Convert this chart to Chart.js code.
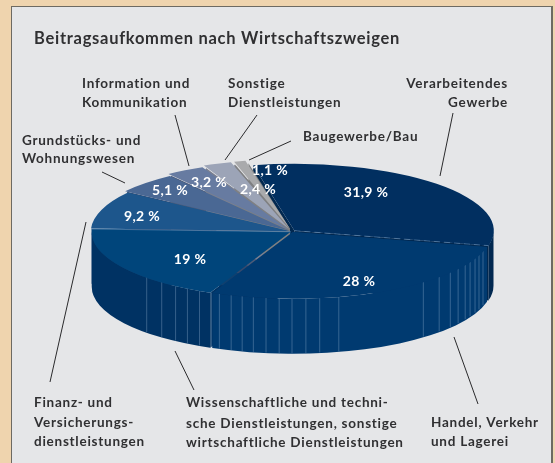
<!DOCTYPE html>
<html>
<head>
<meta charset="utf-8">
<style>
  html, body { margin: 0; padding: 0; background: #efd4ae; }
  #wrap { position: relative; width: 555px; height: 463px; overflow: hidden; }
  #panel { position: absolute; left: 11px; top: 6px; width: 542px; height: 470px; background: #e5e6e8; border: 1px solid #6d6a62; border-right-width: 2px; box-sizing: border-box; }
  canvas { position: absolute; left: 0; top: 0; }
</style>
<script src="https://cdn.jsdelivr.net/npm/chart.js@4"></script>
</head>
<body>
<div id="wrap">
  <div id="panel"></div>
  <canvas id="torte" width="555" height="463"></canvas>
</div>
<script>
var titel = "Beitragsaufkommen nach Wirtschaftszweigen";
var branchen = [
  "Verarbeitendes Gewerbe",
  "Handel, Verkehr und Lagerei",
  "Wissenschaftliche und technische Dienstleistungen, sonstige wirtschaftliche Dienstleistungen",
  "Finanz- und Versicherungsdienstleistungen",
  "Grundstücks- und Wohnungswesen",
  "Information und Kommunikation",
  "Sonstige Dienstleistungen",
  "Baugewerbe/Bau"
];
var anteile = [31.9, 28, 19, 9.2, 5.1, 3.2, 2.4, 1.1];
var farbenOben = ["#012f60", "#003a70", "#00457b", "#1d568c", "#4a6894", "#677ba1", "#9ca4b7", "#a9aaac"];
var farbenSeite = ["#012850", "#003a70", "#003263", "#10406f", "#35496d", "#4d5b78", "#7b8090", "#7f8082"];
var versatz = [14, 8, 6, 6, 16, 28, 36, 36];

// beschriftung: [text, x, y, ausrichtung]
var beschriftungen = [
  ["Information und", 82, 88, "left"], ["Kommunikation", 82, 107, "left"],
  ["Sonstige", 228, 88, "left"], ["Dienstleistungen", 228, 107, "left"],
  ["Grundstücks- und", 22, 145, "left"], ["Wohnungswesen", 22, 163, "left"],
  ["Baugewerbe/Bau", 303, 141, "left"],
  ["Verarbeitendes", 508, 88, "right"], ["Gewerbe", 508, 107, "right"],
  ["Finanz- und", 34, 407, "left"], ["Versicherungs-", 34, 427, "left"], ["dienstleistungen", 34, 446, "left"],
  ["Wissenschaftliche und techni-", 186, 407, "left"], ["sche Dienstleistungen, sonstige", 186, 428, "left"], ["wirtschaftliche Dienstleistungen", 186, 447, "left"],
  ["Handel, Verkehr", 431, 427, "left"], ["und Lagerei", 431, 446, "left"]
];
var fuehrungslinien = [
  [453, 113, 440, 176], [454, 337, 478, 404], [175, 351, 194, 390], [86, 222, 50, 382],
  [102, 172, 125, 183], [175, 115, 189, 166], [257, 115, 225, 160], [291, 141, 249, 160]
];
var prozentPos = [[366, 197], [359, 286], [190, 264], [142, 221], [170, 195], [209, 187], [258, 194], [270, 175]];
// helle streifen in der mantelflaeche, winkel in grad von oben
var streifen = [226.9, 220.9, 215.8, 211.7, 207.7, 203.9, 201.4, 197.8, 194.5, 191.2, 187.5, 183.7, 180, 176, 172, 166.4, 138.7, 132.3, 127.3, 123.4, 119.5, 116.5, 113.1, 110, 106.3];

var stauchung = 0.335;
var tiefe = 55;

function bogenDaten(chart) {
  var meta = chart.getDatasetMeta(0);
  return meta.data.map(function (arc, i) {
    var p = arc.getProps(["x", "y", "startAngle", "endAngle", "outerRadius"], true);
    // chart.js verschiebt einen bogen um offset / 4
    var o = versatz[i] / 4;
    var mitte = (p.startAngle + p.endAngle) / 2;
    return {
      x: p.x + Math.cos(mitte) * o,
      y: p.y + Math.sin(mitte) * o * stauchung,
      a0: p.startAngle, a1: p.endAngle, r: p.outerRadius, i: i, kx: p.x, ky: p.y
    };
  });
}

var dreiD = {
  id: "dreiD",
  beforeDatasetsDraw: function (chart) {
    var ctx = chart.ctx;
    var boegen = bogenDaten(chart);
    var cx = boegen[0].kx, cy = boegen[0].ky;
    ctx.save();
    // radiale schnittflaechen, hinten zuerst
    boegen.forEach(function (b) {
      ctx.fillStyle = farbenSeite[b.i];
      [b.a0, b.a1].forEach(function (a) {
        var rx = b.x + Math.cos(a) * b.r, ry = b.y + Math.sin(a) * b.r * stauchung;
        ctx.beginPath();
        ctx.moveTo(b.x, b.y);
        ctx.lineTo(rx, ry);
        ctx.lineTo(rx, ry + tiefe);
        ctx.lineTo(b.x, b.y + tiefe);
        ctx.closePath();
        ctx.fill();
      });
    });
    // aeussere mantelflaeche
    boegen.forEach(function (b) {
      var z = Math.PI * 2;
      [0, z, -z].forEach(function (k) {
        var von = Math.max(b.a0 + k, 0), bis = Math.min(b.a1 + k, Math.PI);
        if (bis <= von) return;
        ctx.fillStyle = farbenSeite[b.i];
        ctx.beginPath();
        ctx.ellipse(b.x, b.y, b.r, b.r * stauchung, 0, von, bis);
        ctx.ellipse(b.x, b.y + tiefe, b.r, b.r * stauchung, 0, bis, von, true);
        ctx.closePath();
        ctx.fill();
      });
    });
    ctx.strokeStyle = "rgba(150,180,210,0.45)";
    ctx.lineWidth = 0.8;
    streifen.forEach(function (g) {
      var a = (g - 90) * Math.PI / 180;
      var r = boegen[0].r;
      var sx = cx + Math.cos(a) * r, sy = cy + Math.sin(a) * r * stauchung;
      ctx.beginPath();
      ctx.moveTo(sx, sy);
      ctx.lineTo(sx, sy + tiefe);
      ctx.stroke();
    });
    ctx.restore();
    // deckflaeche wird von chart.js gezeichnet, nur gestaucht
    ctx.save();
    ctx.translate(cx, cy);
    ctx.scale(1, stauchung);
    ctx.translate(-cx, -cy);
  },
  afterDatasetsDraw: function (chart) {
    var ctx = chart.ctx;
    ctx.restore();
    ctx.save();
    // helle nahtlinien auf der deckflaeche
    var boegen = bogenDaten(chart);
    ctx.lineWidth = 0.8;
    [[0, "a1", [6, 4]], [2, "a1", []]].forEach(function (n) {
      var b = boegen[n[0]], a = b[n[1]];
      ctx.strokeStyle = "rgba(120,160,200,0.6)";
      ctx.setLineDash(n[2]);
      ctx.beginPath();
      ctx.moveTo(b.x, b.y);
      ctx.lineTo(b.x + Math.cos(a) * b.r, b.y + Math.sin(a) * b.r * stauchung);
      ctx.stroke();
    });
    ctx.setLineDash([]);
    ctx.textBaseline = "alphabetic";
    ctx.fillStyle = "#303032";
    ctx.font = "700 16.5px Lato";
    ctx.letterSpacing = "0.72px";
    ctx.textAlign = "left";
    ctx.fillText(titel, 34, 44);
    ctx.font = "700 13.5px Lato";
    ctx.letterSpacing = "0.75px";
    beschriftungen.forEach(function (b) {
      ctx.textAlign = b[3];
      ctx.fillText(b[0], b[1], b[2]);
    });
    ctx.strokeStyle = "#2a2a2c";
    ctx.lineWidth = 1;
    fuehrungslinien.forEach(function (l) {
      ctx.beginPath();
      ctx.moveTo(l[0], l[1]);
      ctx.lineTo(l[2], l[3]);
      ctx.stroke();
    });
    ctx.fillStyle = "#ffffff";
    ctx.font = "700 14px Lato";
    ctx.letterSpacing = "0.3px";
    ctx.textAlign = "center";
    anteile.forEach(function (w, i) {
      ctx.fillText(String(w).replace(".", ",") + " %", prozentPos[i][0], prozentPos[i][1]);
    });
    ctx.restore();
  }
};

new Chart(document.getElementById("torte"), {
  type: "pie",
  data: {
    labels: branchen,
    datasets: [{
      data: anteile,
      backgroundColor: farbenOben,
      borderWidth: 0,
      offset: versatz,
      radius: 199,
      rotation: -12,
      clip: false
    }]
  },
  options: {
    responsive: false,
    animation: false,
    layout: { padding: { left: 29, top: 0 } },
    plugins: { legend: { display: false }, tooltip: { enabled: false } }
  },
  plugins: [dreiD]
});
</script>
</body>
</html>
